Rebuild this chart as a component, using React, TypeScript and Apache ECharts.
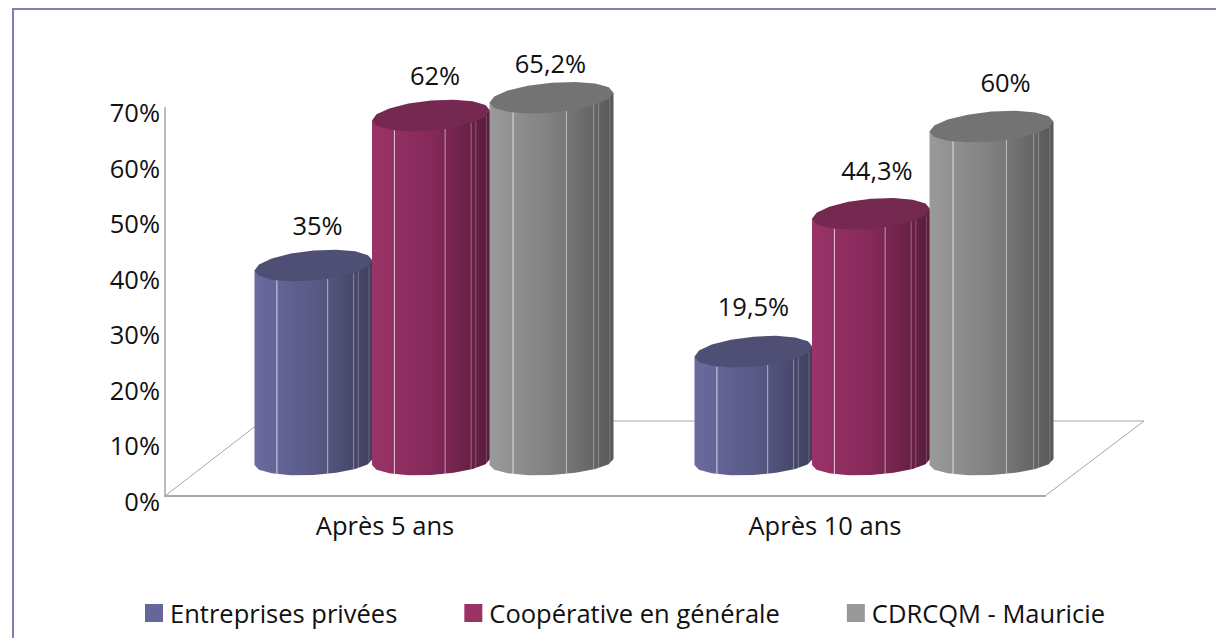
import React, { useEffect, useRef } from "react";
import * as echarts from "echarts";

const categories = ["Après 5 ans", "Après 10 ans"];
const seriesNames = ["Entreprises privées", "Coopérative en générale", "CDRCQM - Mauricie"];
const privees = [35, 19.5];
const cooperative = [62, 44.3];
const cdrcqm = [65.2, 60];
const seriesValues = [privees, cooperative, cdrcqm];

const FONT = "'Open Sans'";
const FONT_SIZE = 25.5;
const TEXT = "#111111";
const legendColors = ["#666699", "#993366", "#999999"];
const bodyStops = [
  ["#6a6a9e", "#5a5a88", "#3f3f5e"],
  ["#9b3368", "#85295a", "#591d3b"],
  ["#9a9a9a", "#808080", "#585858"],
];
const capColors = ["#4f4f75", "#752850", "#737373"];
const xOffsets = [-71.5, 46, 166.5];
const radii = [59, 59, 62];
const labelDx = [[4, 0], [4, 6], [-1, 14]];
const labelDy = [[-41, -46], [-40, -44], [-35, -45]];
const seams: [number, number][] = [
  [0.19, 0.75], [0.62, 0.55], [0.84, 0.35], [0.88, 0.25], [0.97, 0.2],
];

const RY = 15;
const TILT = 5;
const BASE_RY = 13;
const BASE_TILT = 3;
const BASE_DROP = 2;
const SEGMENTS = 16;

function ellipsePoint(cx: number, cy: number, rx: number, ry: number, tilt: number, t: number) {
  const c = Math.cos(t);
  return [cx + rx * c, cy + ry * Math.sin(t) - tilt * c];
}

function renderCylinder(params: any, api: any) {
  const s = params.seriesIndex as number;
  const i = api.value(0) as number;
  const v = api.value(1) as number;
  const [x, top] = api.coord([i, v]);
  const base = api.coord([i, 0])[1] + BASE_DROP;
  const cx = x + xOffsets[s];
  const rx = radii[s];

  const body: number[][] = [];
  for (let k = 0; k <= SEGMENTS / 2; k++) {
    body.push(ellipsePoint(cx, base, rx, BASE_RY, BASE_TILT, Math.PI - (k * 2 * Math.PI) / SEGMENTS));
  }
  body.push(ellipsePoint(cx, top, rx, RY, TILT, 0));
  body.push(ellipsePoint(cx, top, rx, RY, TILT, Math.PI));

  const cap: number[][] = [];
  for (let k = 0; k < SEGMENTS; k++) {
    cap.push(ellipsePoint(cx, top, rx, RY, TILT, (k * 2 * Math.PI) / SEGMENTS));
  }

  const lines = seams.map(([f, op]) => {
    const c = f * 2 - 1;
    const t = Math.acos(c);
    const a = ellipsePoint(cx, top, rx, RY, TILT, t);
    const b = ellipsePoint(cx, base, rx, BASE_RY, BASE_TILT, t);
    return {
      type: "line",
      shape: { x1: a[0], y1: a[1], x2: b[0], y2: b[1] },
      style: { stroke: `rgba(255,255,255,${op})`, lineWidth: 1 },
    };
  });

  return {
    type: "group",
    children: [
      {
        type: "polygon",
        shape: { points: body },
        style: {
          fill: new echarts.graphic.LinearGradient(0, 0, 1, 0, [
            { offset: 0, color: bodyStops[s][0] },
            { offset: 0.5, color: bodyStops[s][1] },
            { offset: 1, color: bodyStops[s][2] },
          ]),
        },
      },
      ...lines,
      { type: "polygon", shape: { points: cap }, style: { fill: capColors[s] } },
      {
        type: "text",
        style: {
          x: cx + labelDx[s][i],
          y: top + labelDy[s][i],
          text: String(v).replace(".", ",") + "%",
          fill: TEXT,
          font: `${FONT_SIZE}px ${FONT}`,
          align: "center",
          verticalAlign: "middle",
        },
      },
    ],
  };
}

export default function App() {
  const ref = useRef<HTMLDivElement>(null);
  useEffect(() => {
    document.body.style.margin = "0";
    document.body.style.background = "#fff";
    const chart = echarts.init(ref.current!, undefined, { renderer: "svg" });
    const hiddenX = { type: "category", data: categories, show: false };
    chart.setOption({
      animation: false,
      backgroundColor: "#ffffff",
      grid: [
        { left: 165, width: 880, top: 112, height: 389 },
        { left: 165, width: 880, top: 108, height: 388 },
        { left: 165, width: 880, top: 71, height: 389 },
      ],
      xAxis: [
        { ...hiddenX, gridIndex: 0 },
        {
          type: "category",
          data: categories,
          gridIndex: 1,
          axisTick: { show: false },
          axisLine: { lineStyle: { color: "#a8a8a8", width: 2 } },
          axisLabel: { fontFamily: FONT, fontSize: FONT_SIZE, color: TEXT, margin: 16 },
        },
        { ...hiddenX, gridIndex: 2 },
      ],
      yAxis: [
        {
          type: "value",
          gridIndex: 0,
          min: 0,
          max: 70,
          interval: 10,
          axisLine: { show: false },
          axisTick: { show: false },
          splitLine: { show: false },
          axisLabel: { formatter: "{value}%", fontFamily: FONT, fontSize: FONT_SIZE, color: TEXT, margin: 5 },
        },
        {
          type: "value",
          gridIndex: 1,
          min: 0,
          max: 70,
          interval: 70,
          axisLine: { show: true, lineStyle: { color: "#bdbdbd", width: 2 } },
          axisTick: { show: false },
          splitLine: { show: false },
          axisLabel: { show: false },
        },
        { type: "value", gridIndex: 2, min: 0, max: 70, show: false, splitLine: { show: false } },
      ],
      legend: {
        left: 145,
        top: 600,
        padding: 0,
        itemWidth: 18,
        itemHeight: 18,
        itemGap: 67,
        icon: "rect",
        data: seriesNames,
        textStyle: { fontFamily: FONT, fontSize: FONT_SIZE, color: TEXT, padding: [0, 0, 0, 2] },
      },
      graphic: [
        {
          type: "polyline",
          z: 0,
          shape: { points: [[13, 638], [13, 9], [1216, 9]] },
          style: { stroke: "#7f7fb3", lineWidth: 2, fill: "none" },
        },
        {
          type: "polyline",
          z: 0,
          shape: { points: [[165, 496], [262, 421], [1144, 421], [1045, 496]] },
          style: { stroke: "#a6a6a6", lineWidth: 1, fill: "none" },
        },
      ],
      series: seriesNames.map((name, s) => ({
        name,
        type: "custom",
        xAxisIndex: 2,
        yAxisIndex: 2,
        z: 3,
        clip: false,
        renderItem: renderCylinder,
        encode: { x: 0, y: 1 },
        itemStyle: { color: legendColors[s] },
        data: seriesValues[s].map((v, i) => [i, v]),
      })),
    });
    return () => chart.dispose();
  }, []);
  return <div ref={ref} style={{ width: 1216, height: 638 }} />;
}
